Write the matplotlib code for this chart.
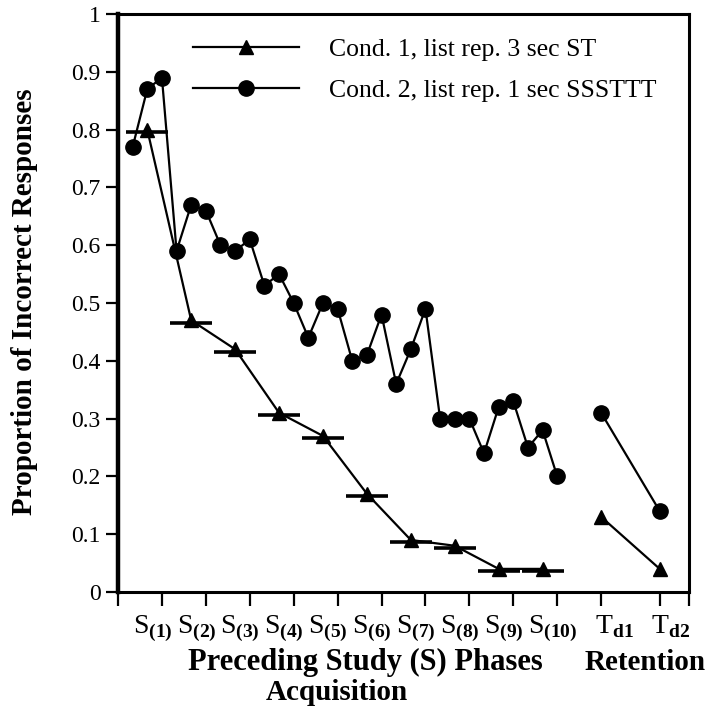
import matplotlib
matplotlib.use("Agg")
import matplotlib.pyplot as plt
from matplotlib.lines import Line2D

plt.rcParams['font.family'] = ['Liberation Serif', 'DejaVu Serif']
plt.rcParams['mathtext.fontset'] = 'custom'
plt.rcParams['mathtext.rm'] = 'Liberation Serif'
plt.rcParams['mathtext.bf'] = 'Liberation Serif:bold'

# Condition 2 (circles): three tests after each study phase, at test positions 1..30
cond2_x = list(range(1, 31))
cond2_y = [0.77, 0.87, 0.89, 0.59, 0.67, 0.66, 0.60, 0.59, 0.61, 0.53,
           0.55, 0.50, 0.44, 0.50, 0.49, 0.40, 0.41, 0.48, 0.36, 0.42,
           0.49, 0.30, 0.30, 0.30, 0.24, 0.32, 0.33, 0.25, 0.28, 0.20]
# Condition 1 (triangles): one test per study phase (middle of each block)
cond1_x = [2, 5, 8, 11, 14, 17, 20, 23, 26, 29]
cond1_y = [0.80, 0.47, 0.42, 0.31, 0.27, 0.17, 0.09, 0.08, 0.04, 0.04]
# Retention tests
ret_x = [33, 37]
ret_cond1 = [0.13, 0.04]
ret_cond2 = [0.31, 0.14]

x_ticks = [0, 3, 6, 9, 12, 15, 18, 21, 24, 27, 30, 33, 37, 39]
s_labels = [r'$\mathrm{S}_{\mathbf{(%d)}}$' % k for k in range(1, 11)]
s_label_x = [1 + 3 * k for k in range(10)]
t_labels = [r'$\mathrm{T}_{\mathbf{d1}}$', r'$\mathrm{T}_{\mathbf{d2}}$']
t_label_x = [32.6, 36.4]
y_ticks = [0, 0.1, 0.2, 0.3, 0.4, 0.5, 0.6, 0.7, 0.8, 0.9, 1]
y_ticklabels = ['0', '0.1', '0.2', '0.3', '0.4', '0.5', '0.6', '0.7', '0.8', '0.9', '1']

fig = plt.figure(figsize=(7.06, 7.06), dpi=100)
ax = fig.add_axes([118 / 706, 1 - 592 / 706, 571 / 706, 578 / 706])

lw = 1.6
ax.plot(cond2_x, cond2_y, color='black', lw=lw, marker='o', markersize=11, zorder=3)
ax.plot(cond1_x, cond1_y, color='black', lw=lw, marker='^', markersize=9.5, zorder=3)
ax.plot(cond1_x, [v - 0.004 for v in cond1_y], linestyle='none', marker='_', markersize=30,
        markeredgewidth=2.6, color='black', zorder=3)
ax.plot(ret_x, ret_cond2, color='black', lw=lw, marker='o', markersize=11, zorder=3)
ax.plot(ret_x, ret_cond1, color='black', lw=lw, marker='^', markersize=10.5, zorder=3)

ax.set_xlim(0, 39)
ax.set_ylim(0, 1)
ax.set_xticks(x_ticks)
ax.set_xticklabels([])
ax.set_yticks(y_ticks)
ax.set_yticklabels(y_ticklabels, fontsize=17)
ax.tick_params(axis='y', direction='out', length=8.6, width=1.6, pad=4)
ax.tick_params(axis='x', direction='out', length=10, width=1.6)
for side in ['left', 'right', 'top', 'bottom']:
    ax.spines[side].set_linewidth(2.2)
ax.spines['left'].set_linewidth(3.2)

for lab, xv in zip(s_labels, s_label_x):
    ax.text(xv, -0.036, lab, fontsize=20, ha='left', va='top',
            transform=ax.get_xaxis_transform())
for lab, xv in zip(t_labels, t_label_x):
    ax.text(xv, -0.036, lab, fontsize=20, ha='left', va='top',
            transform=ax.get_xaxis_transform())

fig.text(25 / 706, 1 - 302 / 706, 'Proportion of Incorrect Responses', fontsize=21,
         fontweight='bold', rotation=90, ha='center', va='center')
fig.text(365 / 706, 1 - 662 / 706, 'Preceding Study (S) Phases', fontsize=22,
         fontweight='bold', ha='center', va='center')
fig.text(337 / 706, 1 - 692 / 706, 'Acquisition', fontsize=21,
         fontweight='bold', ha='center', va='center')
fig.text(645 / 706, 1 - 662 / 706, 'Retention', fontsize=21,
         fontweight='bold', ha='center', va='center')

handles = [Line2D([], [], color='black', lw=lw, marker='^', markersize=10),
           Line2D([], [], color='black', lw=lw, marker='o', markersize=11)]
ax.legend(handles, ['Cond. 1, list rep. 3 sec ST', 'Cond. 2, list rep. 1 sec SSSTTT'],
          loc='upper left', bbox_to_anchor=(0.131, 0.958), frameon=False,
          fontsize=18.5, handlelength=4.15, handletextpad=1.17, labelspacing=0.68,
          borderpad=0, borderaxespad=0)

fig.savefig('out.png', dpi=100)
